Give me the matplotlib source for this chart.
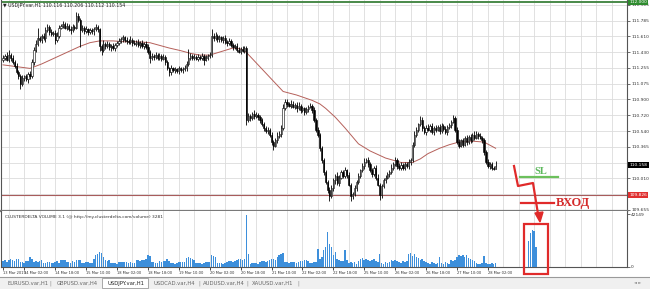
import matplotlib
matplotlib.use("Agg")
import matplotlib.pyplot as plt
import matplotlib.transforms as mtransforms
from matplotlib.patches import Rectangle, Polygon
from matplotlib.lines import Line2D

W, H = 650, 289

# hourly closes of USDJPY.var,H1, one per bar (open = previous close)
first_open = 111.34
closes = [
    111.37, 111.39, 111.35, 111.40, 111.37, 111.32, 111.28, 111.21, 111.16, 111.07,
    111.14, 111.16, 111.13, 111.19, 111.16, 111.32, 111.46, 111.53, 111.59, 111.57,
    111.62, 111.59, 111.68, 111.72, 111.66, 111.64, 111.65, 111.57, 111.62, 111.71,
    111.73, 111.75, 111.71, 111.73, 111.69, 111.68, 111.72, 111.71, 111.84, 111.80,
    111.68, 111.71, 111.67, 111.69, 111.66, 111.68, 111.67, 111.69, 111.72, 111.69,
    111.50, 111.46, 111.53, 111.50, 111.53, 111.49, 111.50, 111.48, 111.51, 111.54,
    111.56, 111.58, 111.60, 111.57, 111.56, 111.55, 111.57, 111.54, 111.53, 111.55,
    111.51, 111.54, 111.50, 111.53, 111.49, 111.44, 111.37, 111.39, 111.38, 111.40,
    111.37, 111.39, 111.36, 111.38, 111.32, 111.25, 111.21, 111.25, 111.23, 111.24,
    111.22, 111.25, 111.23, 111.24, 111.25, 111.30, 111.37, 111.39, 111.37, 111.38,
    111.36, 111.38, 111.37, 111.39, 111.35, 111.37, 111.39, 111.40, 111.62, 111.59,
    111.62, 111.58, 111.60, 111.57, 111.59, 111.55, 111.54, 111.56, 111.51, 111.49,
    111.50, 111.46, 111.44, 111.47, 111.45, 111.48, 110.67, 110.71, 110.69, 110.74,
    110.71, 110.73, 110.70, 110.67, 110.62, 110.58, 110.54, 110.56, 110.50, 110.42,
    110.38, 110.44, 110.49, 110.51, 110.58, 110.80, 110.87, 110.85, 110.83, 110.85,
    110.82, 110.84, 110.80, 110.83, 110.78, 110.80, 110.76, 110.79, 110.82, 110.83,
    110.78, 110.67, 110.56, 110.50, 110.35, 110.22, 110.08, 109.97, 109.88, 109.81,
    109.90, 109.99, 110.04, 109.96, 110.02, 110.08, 110.04, 110.10, 110.05, 109.94,
    109.81, 109.83, 109.90, 109.97, 110.04, 110.10, 110.15, 110.20, 110.22, 110.17,
    110.10, 110.06, 110.13, 110.02, 109.94, 109.82, 109.92, 109.99, 110.02, 110.06,
    110.08, 110.13, 110.17, 110.22, 110.15, 110.13, 110.16, 110.13, 110.17, 110.15,
    110.20, 110.22, 110.39, 110.50, 110.56, 110.62, 110.67, 110.58, 110.53, 110.58,
    110.56, 110.60, 110.53, 110.58, 110.56, 110.59, 110.54, 110.60, 110.57, 110.53,
    110.59, 110.61, 110.65, 110.69, 110.56, 110.42, 110.38, 110.44, 110.39, 110.47,
    110.42, 110.48, 110.44, 110.50, 110.47, 110.51, 110.49, 110.47, 110.44, 110.31,
    110.20, 110.15, 110.17, 110.13, 110.12, 110.154,
]
# wick lengths in pips above / below the candle body
up_wick = [
    3, 2, 4, 6, 2, 3, 2, 3, 2, 3, 4, 2, 3, 2, 3, 4,
    3, 4, 11, 3, 2, 3, 4, 3, 2, 3, 2, 3, 4, 3, 2, 3,
    2, 3, 2, 4, 3, 2, 5, 3, 2, 3, 2, 4, 2, 3, 2, 3,
    3, 2, 2, 3, 4, 2, 3, 2, 3, 4, 3, 2, 3, 2, 3, 2,
    3, 2, 4, 2, 3, 2, 3, 2, 3, 2, 3, 4, 2, 3, 2, 3,
    2, 3, 2, 3, 2, 3, 2, 4, 2, 3, 2, 3, 2, 3, 4, 3,
    10, 3, 2, 3, 2, 3, 2, 3, 2, 3, 2, 3, 7, 3, 4, 2,
    3, 2, 3, 4, 2, 3, 2, 3, 2, 4, 3, 2, 3, 2, 2, 4,
    3, 2, 4, 3, 2, 3, 2, 3, 2, 3, 2, 3, 2, 3, 4, 3,
    3, 5, 4, 3, 2, 4, 3, 2, 3, 4, 2, 3, 2, 3, 2, 3,
    2, 3, 2, 3, 2, 3, 2, 3, 2, 3, 4, 3, 2, 4, 3, 2,
    3, 4, 2, 3, 2, 3, 4, 2, 3, 2, 3, 4, 2, 3, 2, 3,
    2, 3, 4, 2, 3, 2, 3, 2, 3, 4, 2, 3, 2, 3, 4, 2,
    3, 2, 3, 2, 3, 4, 3, 2, 4, 3, 2, 3, 4, 2, 3, 2,
    3, 2, 3, 4, 2, 3, 2, 3, 2, 4, 2, 3, 4, 2, 3, 2,
    3, 2, 3, 2, 4, 3, 2, 3, 2, 3, 2, 3, 2, 3, 2, 5,
]
dn_wick = [
    2, 3, 2, 3, 4, 2, 3, 2, 3, 5, 2, 3, 2, 4, 3, 2,
    3, 2, 3, 2, 3, 2, 4, 2, 3, 2, 3, 4, 2, 3, 2, 3,
    2, 3, 2, 4, 2, 3, 2, 3, 19, 2, 3, 2, 3, 2, 3, 4,
    2, 3, 5, 6, 2, 3, 2, 3, 4, 2, 3, 2, 3, 2, 3, 2,
    3, 2, 3, 4, 2, 3, 2, 3, 2, 3, 2, 3, 6, 2, 3, 2,
    3, 2, 3, 2, 3, 2, 4, 3, 2, 3, 2, 3, 2, 3, 2, 3,
    2, 3, 2, 3, 2, 3, 2, 3, 6, 2, 3, 2, 2, 3, 2, 3,
    3, 2, 3, 2, 4, 3, 2, 3, 2, 3, 2, 3, 2, 3, 6, 2,
    3, 2, 3, 2, 3, 4, 2, 3, 2, 3, 2, 3, 5, 2, 3, 2,
    3, 2, 2, 3, 2, 3, 2, 3, 4, 2, 3, 2, 3, 2, 3, 2,
    3, 2, 3, 2, 3, 4, 3, 2, 3, 5, 2, 3, 4, 2, 3, 2,
    3, 2, 3, 2, 5, 3, 2, 3, 2, 3, 2, 3, 2, 3, 2, 3,
    2, 3, 2, 5, 3, 2, 3, 2, 3, 2, 3, 2, 3, 2, 3, 2,
    3, 2, 3, 4, 2, 3, 2, 3, 2, 3, 2, 3, 2, 3, 2, 3,
    3, 2, 3, 2, 3, 2, 3, 2, 3, 2, 3, 2, 3, 2, 3, 2,
    3, 2, 3, 2, 3, 2, 3, 2, 3, 4, 3, 2, 3, 3, 2, 0,
]
volumes = [
    4800, 5600, 4200, 5200, 6000, 5800, 4400, 6400, 6400, 3600, 4000, 3200, 4400, 4800, 8000, 6000,
    4000, 4400, 3600, 4800, 5600, 3200, 2800, 3600, 4000, 3200, 2800, 3600, 4400, 3200, 5600, 5200,
    5600, 3600, 4000, 3200, 4400, 3600, 5600, 5200, 5600, 3200, 2800, 3600, 4000, 3200, 2800, 6400,
    9600, 10400, 11900, 11200, 8000, 5600, 4800, 5200, 3200, 2800, 3200, 2400, 3600, 4000, 4000, 3600,
    4000, 3200, 3600, 2800, 3200, 5200, 5600, 4800, 5200, 5600, 6400, 9600, 8800, 4000, 3600, 3200,
    3200, 4400, 4000, 4800, 4400, 6400, 4800, 3200, 2800, 2400, 3200, 3600, 4000, 3600, 4000, 7200,
    8000, 7200, 6400, 5600, 3200, 2800, 3200, 2400, 3200, 4000, 4000, 3600, 9600, 8800, 8000, 3200,
    2800, 3200, 2400, 3200, 4000, 4400, 4800, 4000, 4800, 5600, 6400, 6000, 5600, 6400, 41300, 10300,
    2400, 3200, 2800, 3200, 2400, 4000, 4400, 4800, 4000, 4400, 5600, 6000, 6400, 5600, 8000, 9600,
    10300, 11200, 4000, 3600, 3200, 4000, 3600, 4000, 3200, 3600, 4400, 4800, 5600, 5200, 4800, 3200,
    3200, 4000, 4000, 14300, 6400, 8000, 13500, 15900, 27800, 18300, 15900, 9600, 11900, 6400, 5600, 4800,
    4800, 13500, 5600, 3200, 4000, 3200, 4000, 2400, 4800, 6400, 7200, 5600, 6400, 5600, 4800, 5600,
    6400, 4800, 4000, 10300, 3200, 2400, 4000, 3200, 4000, 5600, 4800, 5600, 4800, 4000, 3200, 4800,
    4000, 4800, 10300, 11200, 8800, 10300, 8000, 7200, 5600, 6400, 4800, 4000, 3200, 2400, 4000, 3200,
    2400, 3200, 8000, 3200, 2400, 4000, 3200, 2400, 5600, 4800, 5600, 8000, 9600, 8800, 9600, 8000,
    9600, 7200, 6400, 5600, 4800, 3200, 2400, 2400, 3200, 8800, 3200, 2400, 2400, 3200, 2400, 3200,
]
# moving average, read at a few bars
ma_idx = [0, 7, 14, 20, 25, 30, 35, 40, 45, 50, 57, 63, 70, 76, 81, 86, 92, 97, 102, 107, 113, 119, 123, 126,
          145, 152, 160, 164, 167, 172, 177, 184, 190, 198, 206, 212, 216, 220, 226, 231, 236, 243, 249, 255]
ma_val = [111.29, 111.27, 111.25, 111.30, 111.35, 111.40, 111.45, 111.50, 111.54, 111.56, 111.56, 111.55,
          111.55, 111.54, 111.51, 111.48, 111.45, 111.42, 111.40, 111.40, 111.44, 111.48, 111.47, 111.43,
          110.99, 110.95, 110.89, 110.85, 110.80, 110.70, 110.58, 110.40, 110.32, 110.24, 110.19, 110.19,
          110.23, 110.29, 110.35, 110.39, 110.42, 110.43, 110.42, 110.35]
# expected volume burst drawn in the red box
future_idx = [272, 273, 274, 275, 276]
future_vol = [21000, 27000, 29500, 29000, 16000]

level_red = 109.826
level_green = 112.000
bid = 110.158
price_ticks = [111.965, 111.785, 111.610, 111.430, 111.255, 111.075, 110.900, 110.720,
               110.540, 110.365, 110.185, 110.010, 109.830, 109.655]
hidden_ticks = [110.185, 109.830]  # covered by the price boxes
vol_max = 42149
date_idx = [0, 11, 27, 43, 59, 75, 91, 107, 123, 139, 155, 171, 187, 203, 219, 235, 251]
date_labels = ["13 Mar 2019", "14 Mar 02:00", "14 Mar 18:00", "15 Mar 10:00", "18 Mar 02:00",
               "18 Mar 18:00", "19 Mar 10:00", "20 Mar 02:00", "20 Mar 18:00", "21 Mar 10:00",
               "22 Mar 02:00", "22 Mar 18:00", "25 Mar 10:00", "26 Mar 02:00", "26 Mar 18:00",
               "27 Mar 10:00", "28 Mar 02:00"]
tabs = ["EURUSD.var,H1", "GBPUSD.var,H4", "USDJPY.var,H1", "USDCAD.var,H4", "AUDUSD.var,H4", "XAUUSD.var,H1"]


def fx(px):
    return px / W


def fy(py):
    return 1 - py / H


fig = plt.figure(figsize=(W / 100, H / 100), dpi=100)
fig.patch.set_facecolor("white")

PX_BAR = 1.942
x0, x1 = 1, 627
xlim = ((x0 - 3) / PX_BAR, (x1 - 3) / PX_BAR)
ax = fig.add_axes([fx(x0), fy(211), fx(x1) - fx(x0), 211 / H])
axv = fig.add_axes([fx(x0), fy(267), fx(x1) - fx(x0), 56 / H])

grid_x = list(range(3, 330, 8))
ylim = (112.021 - 0.01127 * 211, 112.021)

# candles
for i, c in enumerate(closes):
    o = closes[i - 1] if i > 0 else first_open
    top, bot = max(o, c), min(o, c)
    ax.vlines(i, bot - dn_wick[i] / 100, top + up_wick[i] / 100, color="black", lw=0.6, zorder=3)
    ax.add_patch(Rectangle((i - 0.32, bot), 0.64, max(top - bot, 0.004),
                           facecolor="white" if c > o else "black", edgecolor="black", lw=0.4, zorder=4))

ax.plot(ma_idx, ma_val, color="#b5605a", lw=0.7, zorder=2)
ax.axhline(level_red, color="#a85c5c", lw=0.8, zorder=2)
ax.axhline(level_green, color="#4a8a4a", lw=1.4, zorder=2)

ax.set_xlim(*xlim)
ax.set_ylim(*ylim)
ax.set_xticks(grid_x)
ax.set_xticklabels([])
ax.tick_params(axis="x", length=0)
ax.yaxis.tick_right()
ax.set_yticks(price_ticks)
ax.set_yticklabels(["" if v in hidden_ticks else "%.3f" % v for v in price_ticks])
ax.tick_params(axis="y", labelsize=3.2, length=2, width=0.5, pad=1, colors="#333333")
ax.grid(True, color="#dcdcdc", lw=0.6)
ax.set_axisbelow(True)
ax.spines["top"].set_visible(False)
ax.spines["left"].set_color("#555555")
ax.spines["right"].set_color("#555555")
ax.spines["right"].set_linewidth(0.8)
ax.spines["bottom"].set_color("#7a7a7a")
ax.spines["bottom"].set_linewidth(1.6)

trans = mtransforms.blended_transform_factory(ax.transAxes, ax.transData)
for val, txt, bg in [(bid, "110.158", "black"), (level_red, "109.826", "#e03030"), (level_green, "112.000", "#2e8b2e")]:
    ax.text(1.004, val, txt, transform=trans, fontsize=3.2, color="white", va="center", ha="left",
            bbox=dict(facecolor=bg, edgecolor="none", pad=0.8), clip_on=False, zorder=10)

# volume panel
axv.bar(range(len(volumes)), volumes, width=0.8, color="#3d8fdb", zorder=3)
axv.bar(future_idx, future_vol, width=0.8, color="#3d8fdb", zorder=3)
axv.set_xlim(*xlim)
axv.set_ylim(0, vol_max * 56 / 53)
axv.yaxis.tick_right()
axv.set_yticks([0, vol_max])
axv.set_yticklabels(["0", str(vol_max)])
axv.tick_params(axis="y", labelsize=3.2, length=2, width=0.5, pad=1, colors="#333333")
axv.set_xticks(grid_x)
axv.set_xticklabels([])
axv.tick_params(axis="x", length=0)
axv.grid(True, axis="x", color="#dcdcdc", lw=0.6)
axv.set_axisbelow(True)
axv.spines["top"].set_visible(False)
for s in ["left", "right", "bottom"]:
    axv.spines[s].set_color("#555555")
    axv.spines[s].set_linewidth(0.8)
axv.text(0.006, 0.93, "CLUSTERDELTA VOLUME 3.1 (@ http://my.clusterdelta.com/volume) 3281",
         transform=axv.transAxes, fontsize=3.2, color="#333333", va="top", ha="left")

# date labels
sec = axv.secondary_xaxis("bottom")
sec.set_xticks(date_idx)
sec.set_xticklabels(date_labels, fontsize=2.6, ha="left", color="#333333")
sec.tick_params(length=2, width=0.5, pad=1)
sec.spines["bottom"].set_visible(False)

# header
fig.text(fx(3), fy(6), "\u25bc USDJPY.var,H1 110.116 110.206 110.112 110.154", fontsize=3.4,
         color="#222222", va="center", ha="left")

# trade annotations
red = "#e02a2a"
fig.add_artist(Line2D([fx(514), fx(518), fx(533), fx(538)], [fy(166), fy(186), fy(183), fy(214)], color=red, lw=1.6))
fig.add_artist(Polygon([[fx(535), fy(213)], [fx(543), fy(212)], [fx(540), fy(222)]], closed=True, color=red))
fig.add_artist(Line2D([fx(521), fx(554)], [fy(203), fy(203)], color=red, lw=1.6))
fig.text(fx(556), fy(203), "ВХОД", color="#d42a2a", fontsize=9, fontweight="bold",
         family="Liberation Serif", va="center", ha="left")
fig.add_artist(Line2D([fx(520), fx(558)], [fy(177), fy(177)], color="#6cc05c", lw=1.6))
fig.text(fx(540.5), fy(171), "SL", color="#5cb85c", fontsize=7.5, fontweight="bold",
         family="Liberation Serif", va="center", ha="center")
fig.add_artist(Rectangle((fx(524), fy(274)), fx(24), 50 / H, fill=False, edgecolor=red, lw=1.6))

# tab bar
fig.add_artist(Rectangle((0, 0), 1, 12 / H, facecolor="#f0f0f0", edgecolor="none"))
fig.add_artist(Line2D([0, 1], [fy(277), fy(277)], color="#9a9a9a", lw=0.8))
fig.add_artist(Rectangle((fx(102), fy(288)), fx(46), 10 / H, facecolor="white", edgecolor="#9a9a9a", lw=0.6))
tab_x = [7, 57, 107, 153, 203, 252]
for tx, name in zip(tab_x, tabs):
    fig.text(fx(tx), fy(283), name, fontsize=3.8, color="#222222" if name.startswith("USDJPY") else "#666666",
             va="center", ha="left")
for sx in [50, 199, 247, 298]:
    fig.text(fx(sx), fy(283), "|", fontsize=3.8, color="#888888", va="center", ha="center")
fig.text(fx(638), fy(283), "\u25c4 \u25ba", fontsize=2.8, color="#888888", va="center", ha="center")

fig.savefig("out.png", dpi=100)
